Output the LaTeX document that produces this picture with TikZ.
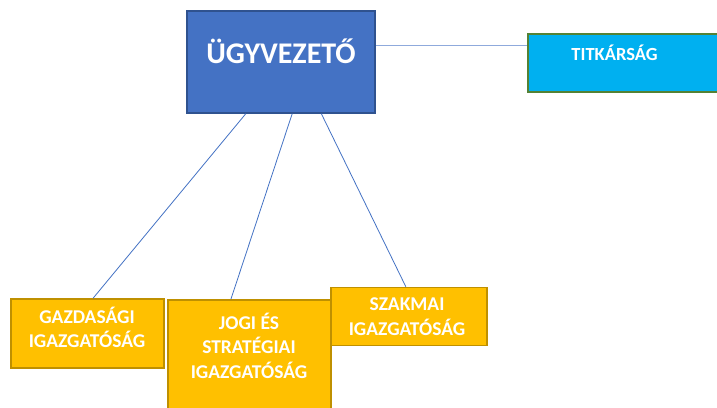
\documentclass[tikz,border=0pt]{standalone}
\usepackage{fontspec}
\setmainfont{Carlito}
\usetikzlibrary{calc}
\definecolor{ublue}{HTML}{4472C4}
\definecolor{ubluedark}{HTML}{2F528F}
\definecolor{tcyan}{HTML}{00B0F0}
\definecolor{tgreen}{HTML}{548235}
\definecolor{gyellow}{HTML}{FFC000}
\definecolor{gyellowdark}{HTML}{BF9000}
\definecolor{lineblue}{HTML}{8FAADC}
\tikzset{
  boxshape/.style={rectangle, inner sep=0pt, line width=1.5pt},
  bluebox/.style={boxshape, fill=ublue, draw=ubluedark},
  cyanbox/.style={boxshape, fill=tcyan, draw=tgreen},
  yellowbox/.style={boxshape, fill=gyellow, draw=gyellowdark},
  lbl/.style={text=white, font=\bfseries\fontsize{19.5pt}{24.5pt}\selectfont, align=center, anchor=base, inner sep=0pt},
  smalllbl/.style={text=white, font=\bfseries\fontsize{18.5pt}{22pt}\selectfont, anchor=base, inner sep=0pt},
  biglbl/.style={text=white, font=\bfseries\fontsize{30pt}{34pt}\selectfont, anchor=base, inner sep=0pt},
  conn/.style={draw=ublue, line width=0.8pt},
  connlight/.style={draw=lineblue, line width=1.5pt}
}
\begin{document}
\begin{tikzpicture}[x=1pt,y=-1pt]
\useasboundingbox (0,0) rectangle (717,407);
\fill[white] (0,0) rectangle (717,407);
% boxes
\node[bluebox, minimum width=188pt, minimum height=102pt] (u) at (281,62) {};
\node[cyanbox, minimum width=220pt, minimum height=58pt] (t) at (638,63) {};
\node[yellowbox, minimum width=153pt, minimum height=69pt] (g) at (87.5,333.5) {};
\node[yellowbox, minimum width=163pt, minimum height=130pt] (j) at (249.5,365) {};
\node[yellowbox, minimum width=156pt, minimum height=58pt] (s) at (409,316.5) {};
% texts
\node[biglbl] (ut) at (281,63) {ÜGYVEZETŐ};
\node[smalllbl] (tt) at (614.5,60) {TITKÁRSÁG};
\node[lbl] (gt) at (87,347.5) {GAZDASÁGI\\IGAZGATÓSÁG};
\node[lbl] (jt) at (249,378) {JOGI ÉS\\STRATÉGIAI\\IGAZGATÓSÁG};
\node[lbl] (st) at (407,335) {SZAKMAI\\IGAZGATÓSÁG};
% connectors
\draw[connlight] (u.east |- 0,45.5) -- (t.west |- 0,45.5);
\draw[conn] ($(u.south west)!0.314!(u.south east)$) -- ($(g.north west)!0.536!(g.north east)$);
\draw[conn] ($(u.south west)!0.559!(u.south east)$) -- ($(j.north west)!0.387!(j.north east)$);
\draw[conn] ($(u.south west)!0.713!(u.south east)$) -- ($(s.north west)!0.48!(s.north east)$);
\end{tikzpicture}
\end{document}
